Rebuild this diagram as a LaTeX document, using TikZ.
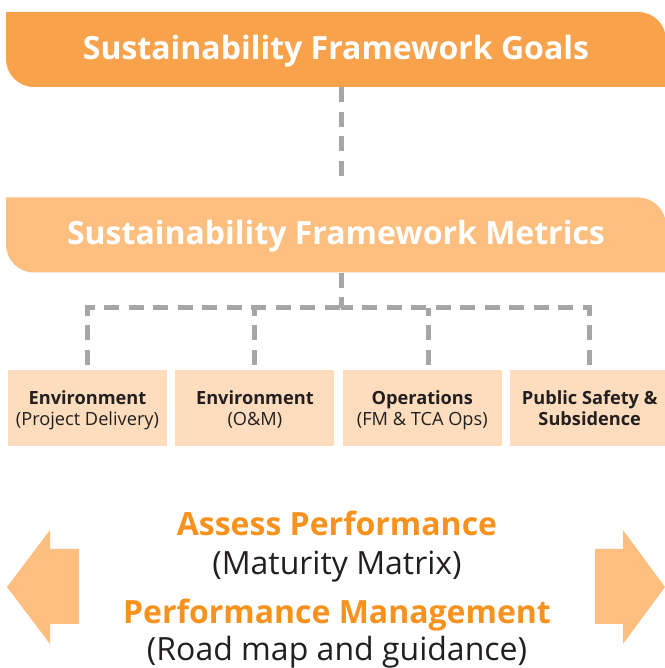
\documentclass[tikz,border=0pt]{standalone}
\usepackage{fontspec}
\setmainfont{Open Sans}
\usetikzlibrary{positioning, calc}
\definecolor{goalorange}{RGB}{248, 162, 76}
\definecolor{metricorange}{RGB}{253, 191, 128}
\definecolor{areapeach}{RGB}{253, 221, 189}
\definecolor{accentorange}{RGB}{247, 146, 30}
\definecolor{textdark}{RGB}{35, 31, 32}
\definecolor{dashgray}{RGB}{166, 166, 168}
\tikzset{
  bandbox/.style={minimum width=660pt, minimum height=75pt, inner sep=0pt, text=white,
    text height=27pt, text depth=7pt,
    font=\bfseries\fontsize{32}{38}\selectfont,
    path picture={\fill[#1] (path picture bounding box.north west)
      -- ([xshift=-28pt]path picture bounding box.north east) arc[start angle=90, end angle=0, radius=28pt]
      -- (path picture bounding box.south east)
      -- ([xshift=28pt]path picture bounding box.south west) arc[start angle=270, end angle=180, radius=28pt]
      -- cycle;}},
  areabox/.style={fill=areapeach, minimum width=159pt, minimum height=76pt, inner sep=0pt,
    text height=40pt, text depth=4pt,
    align=center, text=textdark, font=\fontsize{18.2}{21}\selectfont},
  dashline/.style={draw=dashgray, line width=5pt, dash pattern=on 15pt off 9.5pt},
  headline/.style={anchor=base, text=accentorange, font=\bfseries\fontsize{32}{38}\selectfont},
  subline/.style={anchor=base, text=textdark, font=\fontsize{32}{38}\selectfont},
}

\begin{document}
\begin{tikzpicture}[x=1pt, y=1pt]
  \useasboundingbox (0,0) rectangle (664,668);
  % top bands
  \node[bandbox=goalorange] (goals) at (336,618.5) {Sustainability Framework Goals};
  \node[bandbox=metricorange] (metrics) at (336,433) {Sustainability Framework Metrics};
  \draw[dashline, shorten >=21pt] ([xshift=5pt]goals.south) -- ([xshift=5pt]metrics.north);

  % focus areas
  \node[areabox] (envpd) at (87.5,260) {\textbf{Environment}\\(Project Delivery)};
  \node[areabox, right=8pt of envpd] (envom) {\textbf{Environment}\\(O\&M)};
  \node[areabox, right=8pt of envom] (ops) {\textbf{Operations}\\(FM \& TCA Ops)};
  \node[areabox, right=8pt of ops] (safety) {\textbf{Public Safety \&}\\\textbf{Subsidence}};

  \coordinate (bus) at (341,360);
  \draw[dashline] ([xshift=5pt]metrics.south) -- (bus);
  \draw[dashline] ([yshift=5pt]envpd.north) |- (bus);
  \draw[dashline] ([yshift=5pt]safety.north) |- (bus);
  \draw[dashline] ([yshift=5pt]envom.north) -- (envom.north |- bus);
  \draw[dashline] ([xshift=6pt, yshift=5pt]ops.north) -- ([xshift=6pt]ops.north |- bus);

  % side arrows
  \fill[metricorange] (7,81) -- (50,138) -- (50,119) -- (79,119) -- (79,44) -- (50,44) -- (50,24) -- cycle;
  \fill[metricorange] (665,81) -- (623,138) -- (623,119) -- (595,119) -- (595,44) -- (623,44) -- (623,24) -- cycle;

  % performance text
  \node[headline] (assess) at (337,132) {Assess Performance};
  \node[subline] (matrix) at (337,93) {(Maturity Matrix)};
  \node[headline] (manage) at (337,44) {Performance Management};
  \node[subline] (roadmap) at (337,8) {(Road map and guidance)};
\end{tikzpicture}
\end{document}
